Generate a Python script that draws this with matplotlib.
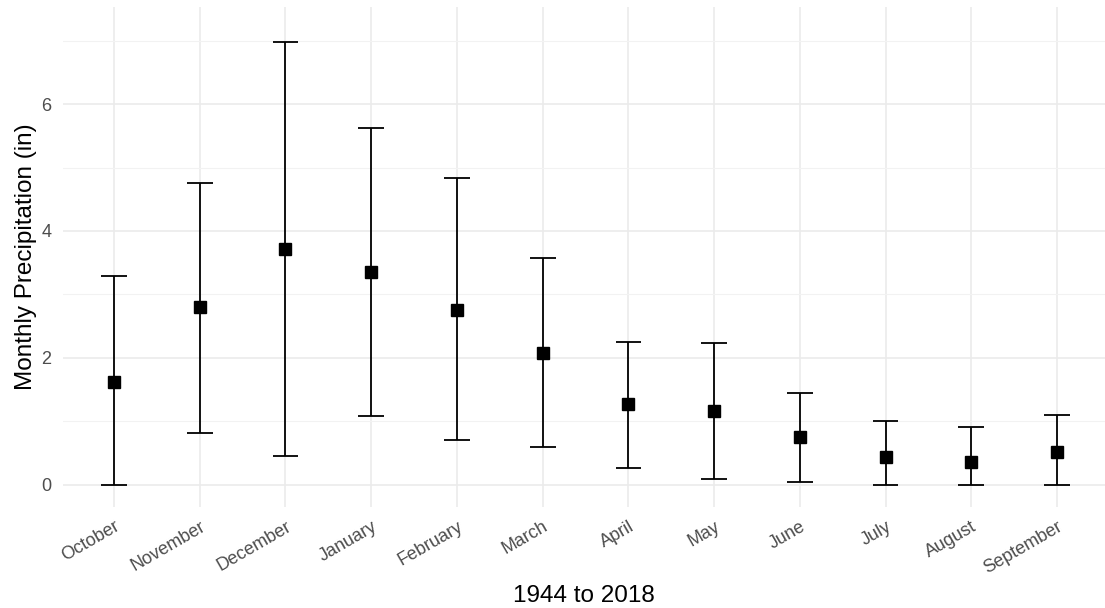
import matplotlib
matplotlib.use("Agg")
import matplotlib.pyplot as plt
import numpy as np

months = ["October", "November", "December", "January", "February", "March",
          "April", "May", "June", "July", "August", "September"]
mean_precip = [1.615, 2.80, 3.72, 3.355, 2.76, 2.08, 1.27, 1.17, 0.75, 0.44, 0.36, 0.515]
low_precip = [0.0, 0.82, 0.457, 1.083, 0.70, 0.59, 0.27, 0.095, 0.05, 0.0, 0.0, 0.0]
high_precip = [3.29, 4.76, 6.98, 5.63, 4.84, 3.57, 2.255, 2.24, 1.45, 1.005, 0.91, 1.10]
y_ticks = [0, 2, 4, 6]
y_minor = [1, 3, 5, 7]

plt.rcParams['font.family'] = ['Liberation Sans', 'DejaVu Sans']

fig = plt.figure(figsize=(11.05, 6.08), dpi=100)
W, H = 1105, 608
ax = fig.add_axes([62.6 / W, 1 - 507 / H, (1105 - 62.6) / W, (507 - 7) / H])

x = np.arange(len(months))
cap = 0.15
ax.vlines(x, low_precip, high_precip, color="black", lw=1.3, zorder=3)
ax.hlines(low_precip, x - cap, x + cap, color="black", lw=1.3, zorder=3)
ax.hlines(high_precip, x - cap, x + cap, color="black", lw=1.3, zorder=3)
ax.plot(x, mean_precip, "s", color="black", ms=8.5, zorder=4)

ax.set_xlim(-0.6, 11 + (1105 - 1057) / 85.7)
ax.set_ylim(-0.35, 7.53)
ax.set_yticks(y_ticks)
ax.set_yticks(y_minor, minor=True)
ax.set_xticks(x)
ax.set_xticklabels(months, rotation=30, ha="right", rotation_mode="anchor")

ax.grid(True, which="major", color="#EBEBEB", lw=1.2, zorder=0)
ax.grid(True, which="minor", axis="y", color="#F2F2F2", lw=0.8, zorder=0)
ax.set_axisbelow(True)
for s in ax.spines.values():
    s.set_visible(False)
ax.tick_params(axis="both", which="both", length=0, labelsize=13, labelcolor="#4D4D4D")
ax.tick_params(axis="x", pad=8)
ax.tick_params(axis="y", pad=8)

ax.set_ylabel("Monthly Precipitation (in)", fontsize=17.5, color="black", labelpad=3)
ax.set_xlabel("1944 to 2018", fontsize=17.5, color="black", labelpad=6)

fig.savefig("out.png", dpi=100)
